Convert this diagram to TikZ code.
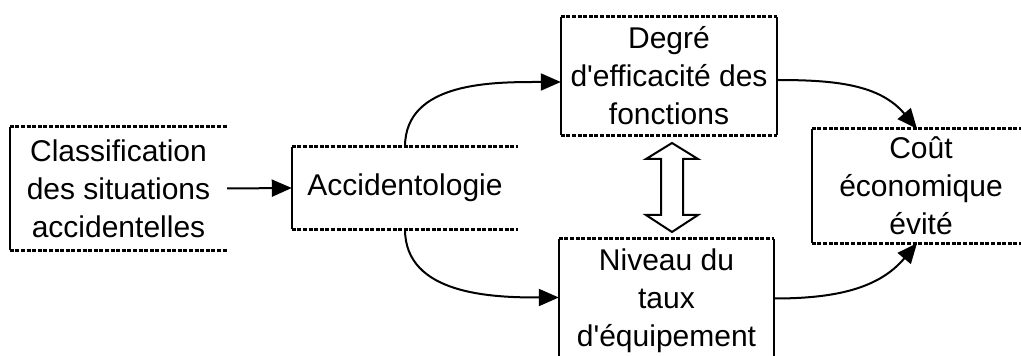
\documentclass[tikz,border=0pt]{standalone}
\usepackage{fontspec}
\setmainfont{Liberation Sans}
\usetikzlibrary{arrows.meta}
\begin{document}
\begin{tikzpicture}[x=1pt,y=1pt,
  box/.style={rectangle, inner sep=0pt, align=center,
    font=\fontsize{30}{38}\selectfont},
  side/.style={line width=2pt},
  dotline/.style={line width=3pt, dash pattern=on 4pt off 1.6pt},
  arr/.style={line width=2pt, -{Triangle[length=20pt,width=17pt]}},
  bigarrow/.style={line width=2pt, fill=white, line join=miter}]
\useasboundingbox (0,0) rectangle (1021,356);

% boxes
\node[box, minimum width=217pt, minimum height=123pt] (cls) at (118.5,167.5)
  {Classification\\des situations\\accidentelles};
\node[box, minimum width=226pt, minimum height=82pt] (acc) at (405,168)
  {Accidentologie};
\node[box, minimum width=216pt, minimum height=118pt] (deg) at (669,280)
  {Degré\\d\textquotesingle efficacité des\\fonctions};
\node[box, minimum width=215pt, minimum height=123pt] (niv) at (666.5,55.5)
  {Niveau du\\taux\\d\textquotesingle équipement};
\node[box, minimum width=218pt, minimum height=114pt] (cout) at (921,170)
  {Coût\\économique\\évité};

% borders: solid sides, dotted top and bottom
\draw[side] (cls.south west) -- (cls.north west);
\draw[dotline] (cls.north west) -- (cls.north east);
\draw[dotline] (cls.south west) -- (cls.south east);

\draw[side] (acc.south west) -- (acc.north west);
\draw[dotline] (acc.north west) -- (acc.north east);
\draw[dotline] (acc.south west) -- (acc.south east);

\draw[side] (deg.south west) -- (deg.north west);
\draw[side] (deg.south east) -- (deg.north east);
\draw[dotline] (deg.north west) -- (deg.north east);
\draw[dotline] (deg.south west) -- (deg.south east);

\draw[side] (niv.south west) -- (niv.north west);
\draw[side] (niv.south east) -- (niv.north east);
\draw[dotline] (niv.north west) -- (niv.north east);

\draw[side] (cout.south west) -- (cout.north west);
\draw[dotline] (cout.north west) -- (cout.north east);
\draw[dotline] (cout.south west) -- (cout.south east);

% connectors
\draw[arr] (cls.east) -- (acc.west);
\draw[arr] (acc.north) to[out=90,in=180] ([yshift=-6pt]deg.west);
\draw[arr] (acc.south) to[out=-90,in=180] ([yshift=3pt]niv.west);
\draw[arr] ([yshift=-4pt]deg.east) to[out=0,in=130] ([xshift=-4pt]cout.north);
\draw[arr] ([yshift=2pt]niv.east) to[out=0,in=-130] ([xshift=-4pt]cout.south);

% two-way hollow arrow between the middle boxes
\draw[bigarrow] (672,213) -- (698,197) -- (683,197) -- (683,141) -- (698,141)
  -- (672,124) -- (646,141) -- (661,141) -- (661,197) -- (646,197) -- cycle;
\end{tikzpicture}
\end{document}
